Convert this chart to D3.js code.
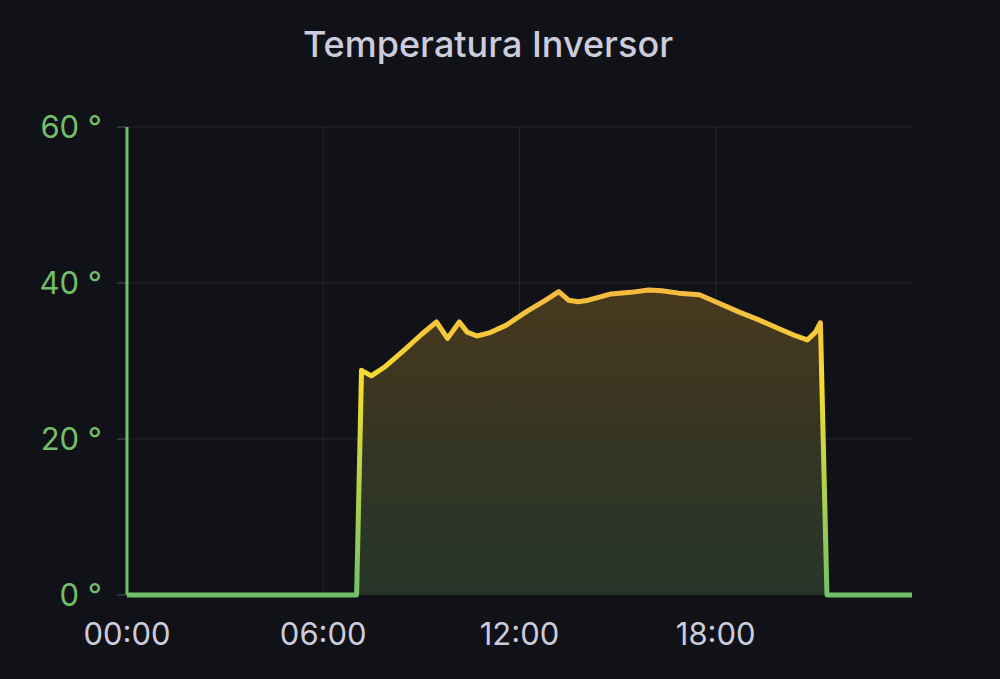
<!DOCTYPE html>
<html>
<head>
<meta charset="utf-8">
<script src="https://cdn.jsdelivr.net/npm/d3@7"></script>
<style>
  html, body { margin: 0; padding: 0; background: #111217; }
  svg { display: block; }
  text { font-family: Inter, "Noto Sans", sans-serif; }
</style>
</head>
<body>
<svg id="chart" width="1000" height="679"></svg>
<script>
// Data (hours of day, temperature °C)
const hours  = [0, 7.02, 7.17, 7.47, 7.9, 8.5, 9.0, 9.46, 9.8, 10.16, 10.4, 10.7, 11.07, 11.6, 12.2, 12.8, 13.2, 13.5, 13.8, 14.1, 14.8, 15.4, 15.95, 16.35, 16.87, 17.5, 18.1, 18.7, 19.3, 19.9, 20.4, 20.8, 21.05, 21.2, 21.4, 24];
const temps  = [0, 0, 28.8, 28.1, 29.3, 31.5, 33.4, 35.0, 32.9, 35.0, 33.7, 33.2, 33.6, 34.6, 36.3, 37.8, 38.9, 37.8, 37.6, 37.8, 38.6, 38.8, 39.1, 39.0, 38.7, 38.5, 37.4, 36.3, 35.3, 34.2, 33.3, 32.7, 33.7, 34.9, 0, 0];
const yTicks = [0, 20, 40, 60];
const xTicks = [0, 6, 12, 18];
const xTickLabels = ["00:00", "06:00", "12:00", "18:00"];
const chartTitle = "Temperatura Inversor";

(function () {
const data = hours.map((h, i) => ({h, v: temps[i]}));

const svg = d3.select("#chart");
const pL = 127, pR = 912, pT = 127, pB = 595;

const x = d3.scaleLinear().domain([0, 24]).range([pL, pR]);
const y = d3.scaleLinear().domain([0, 60]).range([pB, pT]);

// Title
svg.append("text")
  .attr("x", 488).attr("y", 57)
  .attr("text-anchor", "middle")
  .attr("fill", "#ccccdc")
  .attr("font-size", 36)
  .attr("font-weight", 500)
  .text(chartTitle);

// Gradients
const defs = svg.append("defs");
const lineGrad = defs.append("linearGradient")
  .attr("id", "lineGrad").attr("gradientUnits", "userSpaceOnUse")
  .attr("x1", 0).attr("x2", 0).attr("y1", y(0)).attr("y2", y(40));
[[0, "#73BF69"], [15, "#b5d24a"], [27, "#f2de2f"], [33, "#f5cb3a"], [40, "#f5b640"]]
  .forEach(([v, c]) => lineGrad.append("stop").attr("offset", v / 40).attr("stop-color", c));

const fillGrad = defs.append("linearGradient")
  .attr("id", "fillGrad").attr("gradientUnits", "userSpaceOnUse")
  .attr("x1", 0).attr("x2", 0).attr("y1", y(0)).attr("y2", y(40));
[[0, "#263529"], [20, "#363523"], [40, "#48391d"]]
  .forEach(([v, c]) => fillGrad.append("stop").attr("offset", v / 40).attr("stop-color", c));

// Grid
const grid = svg.append("g");
grid.selectAll(".hg").data(yTicks.filter(d => d > 0)).join("line")
  .attr("x1", pL).attr("x2", pR)
  .attr("y1", d => y(d)).attr("y2", d => y(d))
  .attr("stroke", "rgba(204,204,220,0.10)").attr("stroke-width", 1);
grid.selectAll(".vg").data(xTicks.filter(d => d > 0)).join("line")
  .attr("x1", d => x(d)).attr("x2", d => x(d))
  .attr("y1", pT).attr("y2", pB)
  .attr("stroke", "rgba(204,204,220,0.10)").attr("stroke-width", 1);

// Area
const area = d3.area().x(d => x(d.h)).y0(y(0)).y1(d => y(d.v));
svg.append("path").datum(data).attr("d", area).attr("fill", "url(#fillGrad)");

// Y tick marks
svg.selectAll(".yt").data(yTicks).join("line")
  .attr("x1", pL - 10).attr("x2", pL)
  .attr("y1", d => y(d)).attr("y2", d => y(d))
  .attr("stroke", "rgba(204,204,220,0.35)").attr("stroke-width", 1);

// Y axis border (series-colored)
svg.append("line")
  .attr("x1", pL).attr("x2", pL).attr("y1", pT).attr("y2", pB)
  .attr("stroke", "#73BF69").attr("stroke-width", 3);

// Line
const line = d3.line().x(d => x(d.h)).y(d => y(d.v));
svg.append("path").datum(data).attr("d", line)
  .attr("fill", "none").attr("stroke", "url(#lineGrad)")
  .attr("stroke-width", 5).attr("stroke-linejoin", "round").attr("stroke-linecap", "butt");

// Y labels
svg.selectAll(".yl").data(yTicks).join("text")
  .attr("x", 102).attr("y", d => y(d))
  .attr("dy", "0.35em")
  .attr("text-anchor", "end")
  .attr("fill", "#73BF69")
  .attr("font-size", 31)
  .text(d => d + " °");

// X labels
svg.selectAll(".xl").data(xTicks).join("text")
  .attr("x", d => x(d)).attr("y", 645)
  .attr("text-anchor", "middle")
  .attr("fill", "#ccccdc")
  .attr("font-size", 31)
  .text((d, i) => xTickLabels[i]);
})();
</script>
</body>
</html>
